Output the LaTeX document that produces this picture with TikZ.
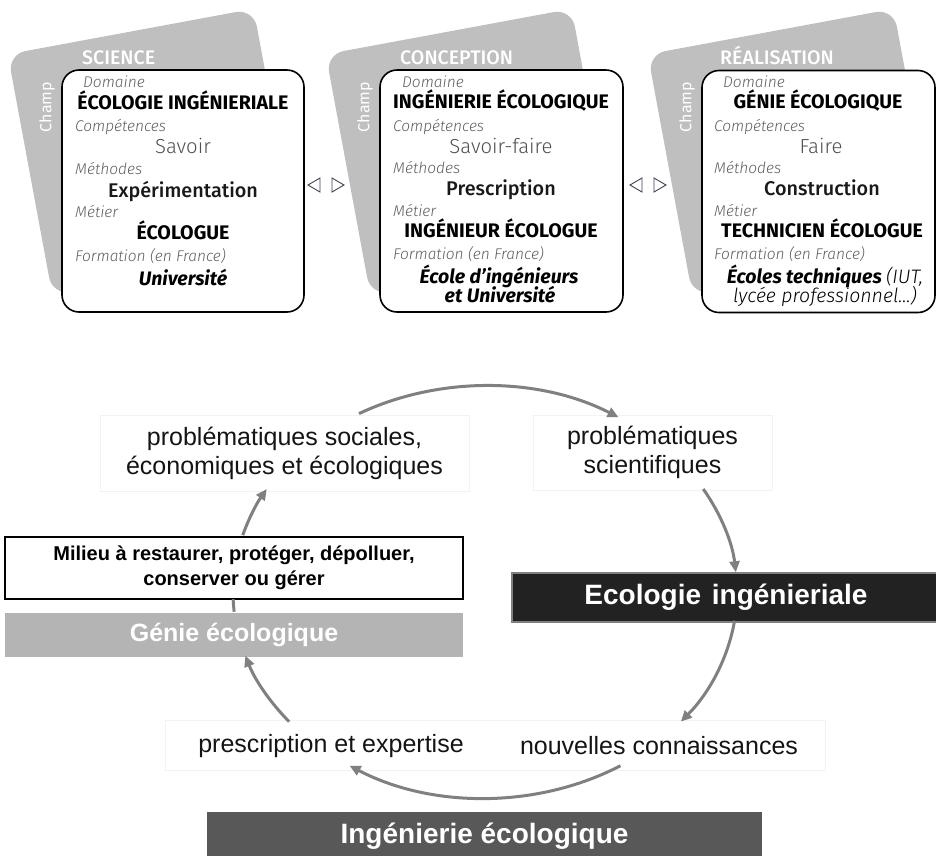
\documentclass[tikz,border=0pt]{standalone}
\usepackage{fontspec}
\setmainfont{Liberation Sans}
\newfontfamily\fsans{Fira Sans}
\newfontfamily\fmed{Fira Sans Medium}
\newfontfamily\flight{Fira Sans Light}
\usetikzlibrary{arrows.meta,calc}
\definecolor{cardgray}{RGB}{191,191,191}
\definecolor{labgray}{RGB}{95,95,95}
\definecolor{skillgray}{RGB}{80,80,80}
\definecolor{arrgray}{RGB}{128,128,128}
\definecolor{geniegray}{RGB}{180,180,180}
\definecolor{ingegray}{RGB}{88,88,88}
\definecolor{ecoblack}{RGB}{34,34,34}
\definecolor{trigray}{RGB}{60,66,80}
\definecolor{faintgray}{RGB}{242,242,242}
\begin{document}
\begin{tikzpicture}[x=1pt,y=-1pt,
  card/.style={fill=cardgray, rounded corners=18pt, minimum width=250pt, minimum height=245pt, rotate=10.5, inner sep=0pt},
  panel/.style={draw=black, line width=1.6pt, fill=white, rounded corners=17pt, inner sep=0pt, minimum height=242pt},
  lab/.style={font=\flight\itshape\fontsize{15.5}{15.5}\selectfont, text=labgray, anchor=base west, inner sep=0pt},
  big/.style={font=\fsans\bfseries\fontsize{19.6}{19.6}\selectfont, text=black, anchor=base, inner sep=0pt},
  skill/.style={font=\flight\fontsize{20.3}{20.3}\selectfont, text=skillgray, anchor=base, inner sep=0pt},
  meth/.style={font=\fmed\fontsize{19.8}{19.8}\selectfont, text=black!90, anchor=base, inner sep=0pt},
  form/.style={font=\fsans\bfseries\itshape\fontsize{19.5}{19.5}\selectfont, text=black, anchor=base, inner sep=0pt},
  field/.style={font=\fmed\fontsize{19.6}{19.6}\selectfont, text=white, anchor=base west, inner sep=0pt},
  champ/.style={font=\fsans\fontsize{16}{16}\selectfont, text=white, rotate=90, inner sep=0pt},
  tri/.style={draw=trigray, line width=0.9pt, line join=miter},
  faint/.style={draw=faintgray, line width=0.8pt},
  txt/.style={font=\fontsize{25}{29}\selectfont, text=black!92, inner sep=0pt},
  cyc/.style={draw=arrgray, line width=3pt, -{Triangle[length=11pt,width=10pt]}},
  cycplain/.style={draw=arrgray, line width=3pt}
]
\useasboundingbox (0,0) rectangle (936,855);

% ---------- top: three fields ----------
\node[card] (card1) at (153,152) {};
\node[card] (card2) at (471,152) {};
\node[card] (card3) at (793,152) {};

\node[field] (f1) at (82,64) {SCIENCE};
\node[field] (f2) at (400,64) {CONCEPTION};
\node[field] (f3) at (720,64) {RÉALISATION};

\node[champ] (ch1) at (47,107) {Champ};
\node[champ] (ch2) at (365,107) {Champ};
\node[champ] (ch3) at (687,107) {Champ};

\node[panel, minimum width=242pt] (p1) at (183,191) {};
\node[panel, minimum width=243pt] (p2) at (501.5,191) {};
\node[panel, minimum width=233pt] (p3) at (818.5,191.5) {};

% triangles between panels
\draw[tri] (308,185) -- (320,178) -- (320,192) -- cycle;
\draw[tri] (332,178) -- (344,185) -- (332,192) -- cycle;
\draw[tri] (630,185) -- (642,178) -- (642,192) -- cycle;
\draw[tri] (654,178) -- (666,185) -- (654,192) -- cycle;

% panel 1
\node[lab] (d1) at (83,87.5) {Domaine};
\node[big] (n1) at (183,109.5) {ÉCOLOGIE INGÉNIERIALE};
\node[lab] (c1) at (75,131) {Compétences};
\node[skill] (s1) at (183,153.5) {Savoir};
\node[lab] (m1) at (75,174.5) {Méthodes};
\node[meth] (e1) at (183,197) {Expérimentation};
\node[lab] (j1) at (75,217.5) {Métier};
\node[big] (o1) at (183,239.5) {ÉCOLOGUE};
\node[lab] (t1) at (75,261) {Formation (en France)};
\node[form] (u1) at (183,285) {Université};

% panel 2
\node[lab] (d2) at (402,87.5) {Domaine};
\node[big] (n2) at (501,108.5) {INGÉNIERIE ÉCOLOGIQUE};
\node[lab] (c2) at (393,131) {Compétences};
\node[skill] (s2) at (501,153) {Savoir-faire};
\node[lab] (m2) at (393,173) {Méthodes};
\node[meth] (e2) at (501,195) {Prescription};
\node[lab] (j2) at (393,216.5) {Métier};
\node[big] (o2) at (501,237) {INGÉNIEUR ÉCOLOGUE};
\node[lab] (t2) at (393,259.5) {Formation (en France)};
\node[form] (u2) at (499,283) {École d’ingénieurs};
\node[form] (v2) at (500,302) {et Université};

% panel 3
\node[lab] (d3) at (723,87.5) {Domaine};
\node[big] (n3) at (818,108.5) {GÉNIE ÉCOLOGIQUE};
\node[lab] (c3) at (714,131) {Compétences};
\node[skill] (s3) at (821,153) {Faire};
\node[lab] (m3) at (714,173) {Méthodes};
\node[meth] (e3) at (822,195) {Construction};
\node[lab] (j3) at (714,216.5) {Métier};
\node[big] (o3) at (822,237) {TECHNICIEN ÉCOLOGUE};
\node[lab] (t3) at (714,259.5) {Formation (en France)};
\node[form] (u3) at (825,283) {Écoles techniques {\flight\itshape\mdseries (IUT,}};
\node[form, font=\flight\itshape\fontsize{19.5}{19.5}\selectfont] (v3) at (825,302) {lycée professionnel...)};

% ---------- bottom: cycle ----------
\node[faint, txt, align=center, minimum width=369pt, minimum height=76pt] (soc) at (284.5,453) {problématiques sociales,\\économiques et écologiques};
\node[faint, txt, align=center, minimum width=239pt, minimum height=75pt] (sci) at (652.5,452.5) {problématiques\\scientifiques};

\node[draw=black, line width=1.2pt, minimum width=458pt, minimum height=62pt, inner sep=0pt, align=center,
      font=\bfseries\fontsize{20}{25}\selectfont] (mil) at (234,568) {Milieu à restaurer, protéger, dépolluer,\\conserver ou gérer};
\node[fill=geniegray, minimum width=458pt, minimum height=44pt, inner sep=0pt, text=white,
      font=\bfseries\fontsize{25}{25}\selectfont] (gen) at (234,635) {Génie écologique};
\node[fill=ecoblack, draw=arrgray, line width=1.5pt, minimum width=428pt, minimum height=49pt, inner sep=0pt, text=white,
      font=\bfseries\fontsize{28}{28}\selectfont] (eco) at (726,597.5) {Ecologie\hspace{3pt} ingénieriale};

\node[faint, minimum width=660pt, minimum height=50pt] (pebox) at (495,745) {};
\node[txt] (pe) at (331,746) {prescription et expertise};
\node[txt] (nc) at (659,746) {nouvelles connaissances};

\node[fill=ingegray, minimum width=555pt, minimum height=48pt, inner sep=0pt, text=white,
      font=\bfseries\fontsize{28}{28}\selectfont] (inge) at (484.5,836) {Ingénierie écologique};

% ellipse arcs
\coordinate (O) at (485,592);
\coordinate (a1) at ($(O)+(240:252 and 206)$);
\coordinate (a2) at ($(O)+(-30:252 and 206)$);
\coordinate (a3) at ($(O)+(8:252 and 206)$);
\coordinate (a4) at ($(O)+(57.5:252 and 206)$);
\coordinate (a5) at ($(O)+(141:252 and 206)$);
\coordinate (a6) at ($(O)+(174.5:252 and 206)$);
\coordinate (a7) at ($(O)+(196:252 and 206)$);

\draw[cyc] (a1) arc[start angle=240, end angle=302, x radius=252, y radius=206];
\draw[cyc] (a2) arc[start angle=-30, end angle=-5.5, x radius=252, y radius=206];
\draw[cyc] (a3) arc[start angle=8, end angle=39, x radius=252, y radius=206];
\draw[cyc] (a4) arc[start angle=57.5, end angle=122.5, x radius=252, y radius=206];
\draw[cyc] (a5) arc[start angle=141, end angle=162, x radius=252, y radius=206];
\draw[cycplain] (a6) arc[start angle=174.5, end angle=178, x radius=252, y radius=206];
\draw[cyc] (a7) arc[start angle=196, end angle=210, x radius=252, y radius=206];
\end{tikzpicture}
\end{document}
